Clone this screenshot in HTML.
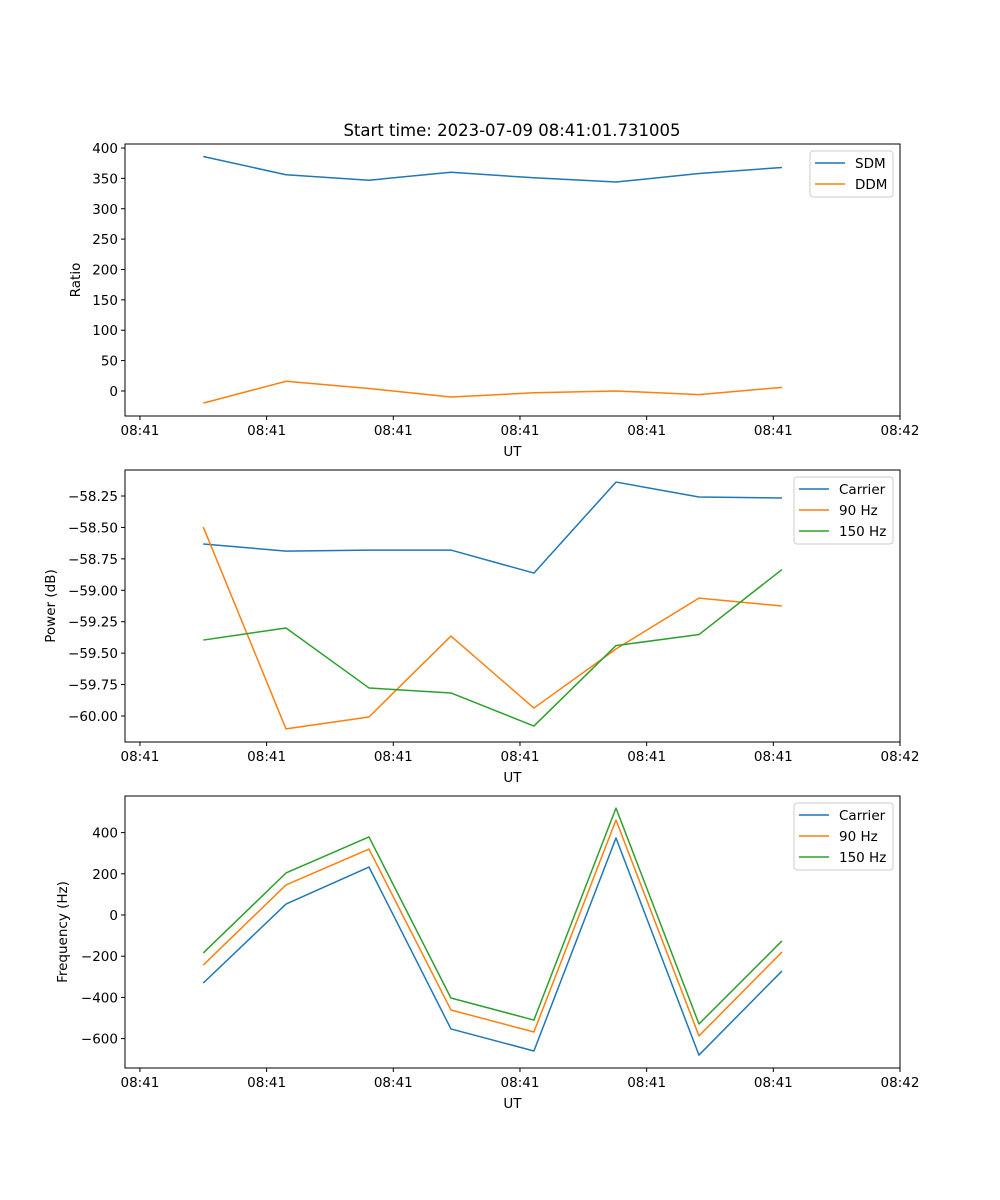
<!DOCTYPE html>
<html><head><meta charset="utf-8"><style>
body{margin:0;background:#fff}
svg{display:block;font-family:"DejaVu Sans","Liberation Sans",sans-serif}
</style></head><body>
<svg id="fig" width="1000" height="1200" viewBox="0 0 1000 1200"></svg>
<script>
const xTicks=[0,1,2,3,4,5,6];
const xTickLabels=["08:41","08:41","08:41","08:41","08:41","08:41","08:42"];
const times=[0.5,1.153,1.808,2.455,3.11,3.758,4.413,5.068];
const sdm=[386,356,347,360,351,344,358,368];
const ddm=[-20,16,4,-10,-3,0,-6,6];
const ratioTicks=[0,50,100,150,200,250,300,350,400];
const pwrCarrier=[-58.632,-58.688,-58.68,-58.68,-58.863,-58.139,-58.258,-58.266];
const pwr90=[-58.497,-60.103,-60.008,-59.364,-59.937,-59.467,-59.062,-59.125];
const pwr150=[-59.396,-59.30,-59.777,-59.817,-60.08,-59.44,-59.352,-58.835];
const pwrTicks=[-60.00,-59.75,-59.50,-59.25,-59.00,-58.75,-58.50,-58.25];
const frqCarrier=[-330,53,233,-553,-660,374,-680,-272];
const frq90=[-243,146,320,-461,-568,461,-587,-180];
const frq150=[-184,204,379,-403,-510,519,-529,-126];
const frqTicks=[-600,-400,-200,0,200,400];
const C1="#1f77b4",C2="#ff7f0e",C3="#2ca02c";
const NS="http://www.w3.org/2000/svg";
const svg=document.getElementById('fig');
function mk(t,a,p){const e=document.createElementNS(NS,t);for(const k in a)e.setAttribute(k,a[k]);(p||svg).appendChild(e);return e;}
const X0=125,X1=900,xmin=-0.118,xmax=6.0;
const xs=v=>X0+(v-xmin)/(xmax-xmin)*(X1-X0);
function panel(name,top,bot,ymin,ymax,yticks,fmt,ylabel,series,legend){
  const g=mk('g',{});
  
  
  const ys=v=>bot-(v-ymin)/(ymax-ymin)*(bot-top);
  series.forEach(s=>{
    const pl=mk('polyline',{points:times.map((t,i)=>xs(t)+','+ys(s.v[i])).join(' '),fill:'none',stroke:s.c,'stroke-width':1.5,'stroke-linejoin':'round'},g);
    
    
  });
  const fr=mk('rect',{x:X0,y:top,width:X1-X0,height:bot-top,fill:'none',stroke:'#000','stroke-width':1},g);
  
  
  xTicks.forEach((t,i)=>{const x=xs(t);
    mk('line',{x1:x,x2:x,y1:bot,y2:bot+4,stroke:'#000'},g);
    const tx=mk('text',{x:x,y:bot+19,'font-size':13.5,'text-anchor':'middle'},g);tx.textContent=xTickLabels[i];
    
    });
  const xl=mk('text',{x:(X0+X1)/2,y:bot+40,'font-size':13.5,'text-anchor':'middle'},g);xl.textContent='UT';
  
  
  yticks.forEach(v=>{const y=ys(v);
    mk('line',{x1:X0-4,x2:X0,y1:y,y2:y,stroke:'#000'},g);
    const tx=mk('text',{x:X0-7,y:y+5,'font-size':13.5,'text-anchor':'end'},g);tx.textContent=fmt(v).replace('-','\u2212');
    
    });
  const yl=mk('text',{x:0,y:0,'font-size':13.5,'text-anchor':'middle',transform:`translate(${legend.yl},${(top+bot)/2}) rotate(-90)`},g);yl.textContent=ylabel;
  
  
  const lg=mk('g',{},g);
  
  
  mk('rect',{x:legend.x,y:top+7,width:legend.w,height:4+series.length*21,rx:3,fill:'#fff','fill-opacity':0.8,stroke:'#ccc'},lg);
  series.forEach((s,i)=>{const y=top+19+i*21;
    mk('line',{x1:legend.x+5,x2:legend.x+35,y1:y,y2:y,stroke:s.c,'stroke-width':1.5},lg);
    const t=mk('text',{x:legend.x+45,y:y+5,'font-size':13.5},lg);t.textContent=s.n;
    
    });
}
const title=mk('text',{x:512,y:136,'font-size':16.5,'text-anchor':'middle'});
title.textContent='Start time: 2023-07-09 08:41:01.731005';


panel('ratio',144,416,-41.2,406.6,ratioTicks,v=>String(v),'Ratio',[{n:'SDM',v:sdm,c:C1},{n:'DDM',v:ddm,c:C2}],{x:810,w:83,yl:80});
panel('power',470,742,-60.207,-58.043,pwrTicks,v=>v.toFixed(2),'Power (dB)',[{n:'Carrier',v:pwrCarrier,c:C1},{n:'90 Hz',v:pwr90,c:C2},{n:'150 Hz',v:pwr150,c:C3}],{x:794,w:99,yl:55});
panel('frequency',796,1068,-742.7,577.7,frqTicks,v=>String(v),'Frequency (Hz)',[{n:'Carrier',v:frqCarrier,c:C1},{n:'90 Hz',v:frq90,c:C2},{n:'150 Hz',v:frq150,c:C3}],{x:794,w:99,yl:67});
</script>
</body></html>
